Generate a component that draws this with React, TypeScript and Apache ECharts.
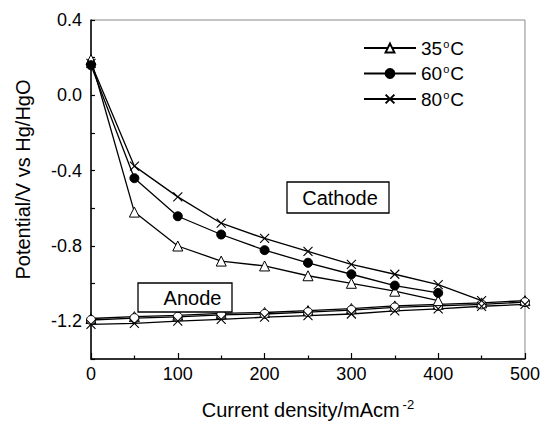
import React, { useEffect, useRef } from "react";
import * as echarts from "echarts";

const currents = [0, 50, 100, 150, 200, 250, 300, 350, 400, 450, 500];
const legendNames = ["35", "60", "80"];
const cathode35 = [0.19, -0.62, -0.8, -0.88, -0.906, -0.958, -0.998, -1.04, -1.09];
const cathode60 = [0.16, -0.44, -0.642, -0.739, -0.822, -0.889, -0.95, -1.01, -1.049];
const cathode80 = [0.17, -0.376, -0.539, -0.679, -0.76, -0.829, -0.898, -0.95, -1.005, -1.09];
const anode35 = [-1.185, -1.175, -1.168, -1.158, -1.153, -1.143, -1.132, -1.118, -1.11, -1.102, -1.09];
const anode60 = [-1.193, -1.183, -1.176, -1.166, -1.161, -1.151, -1.14, -1.126, -1.118, -1.11, -1.098];
const anode80 = [-1.216, -1.211, -1.199, -1.19, -1.178, -1.17, -1.161, -1.145, -1.134, -1.12, -1.11];
const yLabels = ["0.4", "0.0", "-0.4", "-0.8", "-1.2"];

const FONT = "Liberation Sans, Arial, sans-serif";
const X_SYMBOL = "path://M0,0L10,10M10,0L0,10";

const pairs = (vals: number[]) => vals.map((v, i) => [currents[i], v]);

const styles: Record<string, any> = {
  "35": { symbol: "triangle", symbolSize: 10, itemStyle: { color: "#fff", borderColor: "#000", borderWidth: 1 } },
  "60": { symbol: "circle", symbolSize: 9, itemStyle: { color: "#000", borderColor: "#000", borderWidth: 1 } },
  "80": { symbol: X_SYMBOL, symbolSize: 9, itemStyle: { color: "#000", borderColor: "#000", borderWidth: 1.1 } },
};

function mk(name: string, vals: number[], anode: boolean) {
  const st = styles[name];
  let itemStyle = st.itemStyle;
  if (anode && name === "60") itemStyle = { color: "#fff", borderColor: "#000", borderWidth: 1 };
  return {
    type: "line",
    name,
    data: pairs(vals),
    symbol: st.symbol,
    symbolSize: st.symbolSize,
    showAllSymbol: true,
    itemStyle,
    lineStyle: { color: "#000", width: 1.3 },
    emphasis: { disabled: true },
    z: anode ? 2 : 3,
  };
}

export default function App() {
  const ref = useRef<HTMLDivElement>(null);
  useEffect(() => {
    if (!ref.current) return;
    const chart = echarts.init(ref.current, null, { renderer: "svg" });
    chart.setOption({
      animation: false,
      textStyle: { fontFamily: FONT },
      grid: { left: 91, right: 16, top: 20, bottom: 58, show: true, borderColor: "#8a8a8a", borderWidth: 1 },
      legend: {
        data: legendNames,
        orient: "vertical",
        left: 358,
        top: 33,
        itemWidth: 52,
        itemHeight: 11,
        itemGap: 6,
        selectedMode: false,
        formatter: (n: string) => `{n|${n}}{o|o}{n|C}`,
        textStyle: {
          fontFamily: FONT,
          color: "#000",
          rich: {
            n: { fontSize: 19, fontFamily: FONT, color: "#000", lineHeight: 20 },
            o: { fontSize: 11, fontFamily: FONT, color: "#000", verticalAlign: "top", padding: [0, 1, 0, 1] },
          },
        },
      },
      xAxis: {
        type: "value",
        min: 0,
        max: 500,
        interval: 100,
        name: "{a|Current density/mAcm}{s|-2}",
        nameLocation: "middle",
        nameGap: 39,
        nameTextStyle: {
          rich: {
            a: { fontSize: 20, fontFamily: FONT, color: "#000", lineHeight: 24 },
            s: { fontSize: 13, fontFamily: FONT, color: "#000", verticalAlign: "top", padding: [0, 0, 0, 3] },
          },
        },
        axisLine: { onZero: false, lineStyle: { color: "#000", width: 1.5 } },
        axisTick: { inside: true, length: 6, lineStyle: { color: "#000", width: 1.2 } },
        minorTick: { show: true, splitNumber: 2, length: 3.5, lineStyle: { color: "#000", width: 1.2 } },
        splitLine: { show: false },
        axisLabel: { fontSize: 18, color: "#000", margin: 6, fontFamily: FONT },
      },
      yAxis: {
        type: "value",
        min: -1.4,
        max: 0.4,
        interval: 0.2,
        name: "Potential/V vs Hg/HgO",
        nameLocation: "middle",
        nameGap: 58,
        nameTextStyle: { fontSize: 20, color: "#000", fontFamily: FONT, padding: [0, 0, 0, 20] },
        axisLine: { onZero: false, lineStyle: { color: "#000", width: 1.5 } },
        axisTick: { inside: true, length: 4, lineStyle: { color: "#000", width: 1.2 } },
        splitLine: { show: false },
        axisLabel: {
          fontSize: 18,
          color: "#000",
          margin: 9,
          fontFamily: FONT,
          formatter: (v: number) => {
            const s = v.toFixed(1) === "-0.0" ? "0.0" : v.toFixed(1);
            return yLabels.includes(s) ? s : "";
          },
        },
      },
      graphic: [
        {
          type: "group",
          children: [
            { type: "rect", shape: { x: 287, y: 182, width: 102, height: 31 }, style: { fill: "#fff", stroke: "#000", lineWidth: 1.3 }, z: 10 },
            { type: "text", x: 340, y: 198, style: { text: "Cathode", fontSize: 20, fontFamily: FONT, fill: "#000", align: "center", verticalAlign: "middle" }, z: 11 },
            { type: "rect", shape: { x: 138, y: 283, width: 94, height: 29 }, style: { fill: "#fff", stroke: "#000", lineWidth: 1.3 }, z: 10 },
            { type: "text", x: 192.5, y: 297.5, style: { text: "Anode", fontSize: 20, fontFamily: FONT, fill: "#000", align: "center", verticalAlign: "middle" }, z: 11 },
          ],
        },
      ],
      series: [
        mk("35", cathode35, false),
        mk("60", cathode60, false),
        mk("80", cathode80, false),
        mk("35", anode35, true),
        mk("60", anode60, true),
        mk("80", anode80, true),
      ],
    });
    return () => chart.dispose();
  }, []);
  return <div ref={ref} style={{ width: 543, height: 425, position: "absolute", left: 0, top: 0 }} />;
}
